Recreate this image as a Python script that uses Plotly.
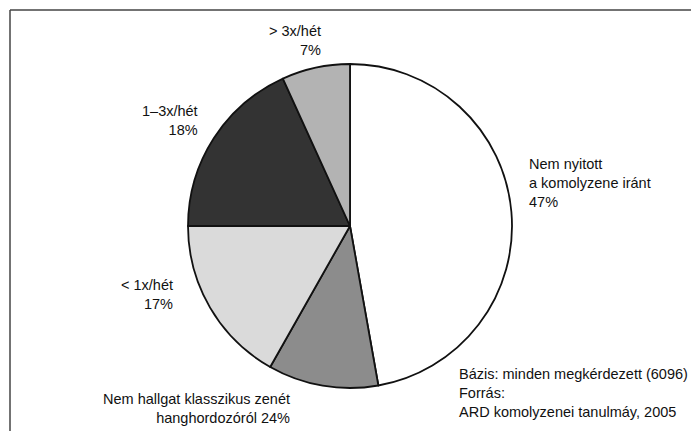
import plotly.graph_objects as go

# slices clockwise from 12 o'clock (sizes)
categories = ['Nem nyitott a komolyzene iránt', 'Nem hallgat klasszikus zenét hanghordozóról',
              '< 1x/hét', '1–3x/hét', '> 3x/hét']
values = [47.2, 11.0, 16.8, 18.2, 6.8]
printed_pct = ['47%', '24%', '17%', '18%', '7%']
colors = ['#ffffff', '#8c8c8c', '#dadada', '#333333', '#b3b3b3']

W, H = 691, 431


def px(x, y):
    return x / W, 1 - y / H


fig = go.Figure()
fig.add_trace(go.Pie(
    labels=categories,
    values=values,
    sort=False,
    direction='clockwise',
    rotation=0,
    textinfo='none',
    hoverinfo='label+percent',
    marker=dict(colors=colors, line=dict(color='#111111', width=1.8)),
    domain=dict(x=[188 / W, 512 / W], y=[1 - 388 / H, 1 - 64 / H]),
))

font = dict(family='Liberation Sans, Arial, sans-serif', size=14.5, color='#111111')

# label blocks: (text, x, y centre, anchor)
blocks = [
    ('Nem nyitott<br>a komolyzene iránt<br>' + printed_pct[0], 527, 183, 'left', 'left'),
    ('Nem hallgat klasszikus zenét<br>hanghordozóról ' + printed_pct[1], 292, 408, 'right', 'right'),
    ('< 1x/hét<br>' + printed_pct[2], 175, 294, 'right', 'right'),
    ('1–3x/hét<br>' + printed_pct[3], 200, 120, 'right', 'right'),
    ('> 3x/hét<br>' + printed_pct[4], 323, 40, 'right', 'right'),
    ('Bázis: minden megkérdezett (6096)<br>Forrás:<br>ARD komolyzenei tanulmáy, 2005', 457, 393, 'left', 'left'),
]
annotations = []
for text, x, y, anchor, align in blocks:
    ax, ay = px(x, y)
    annotations.append(dict(text=text, x=ax, y=ay, xref='paper', yref='paper',
                            xanchor=anchor, yanchor='middle', align=align,
                            showarrow=False, font=font))

# frame (only top and left edges show in the crop)
x0, y0 = px(10, 10)
shapes = [
    dict(type='line', xref='paper', yref='paper', x0=x0, y0=y0, x1=1, y1=y0,
         line=dict(color='#444444', width=1.5)),
    dict(type='line', xref='paper', yref='paper', x0=x0, y0=0, x1=x0, y1=y0,
         line=dict(color='#444444', width=1.5)),
]

fig.update_layout(
    width=W, height=H,
    margin=dict(l=0, r=0, t=0, b=0),
    paper_bgcolor='#ffffff',
    showlegend=False,
    annotations=annotations,
    shapes=shapes,
)

fig.write_html("out.html", config={'displayModeBar': False},
               post_script="document.body.style.margin='0';")
